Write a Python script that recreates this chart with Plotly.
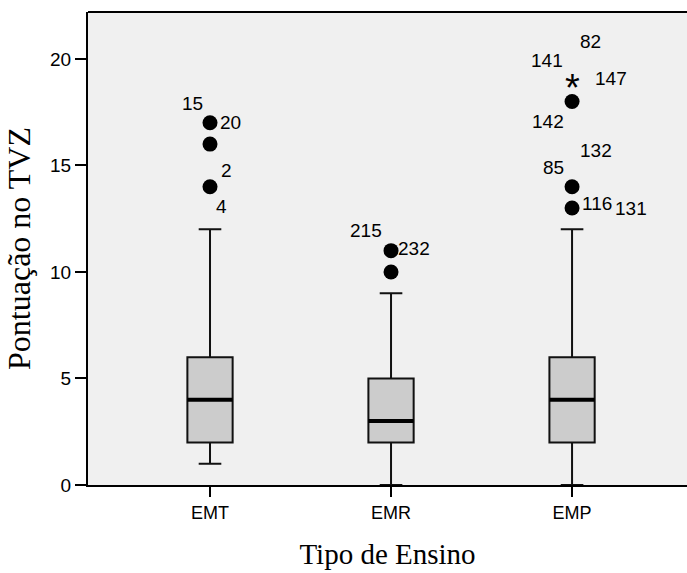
import plotly.graph_objects as go

# Box-plot summaries per school type
categories = ["EMT", "EMR", "EMP"]
q1 = [2, 2, 2]
medians = [4, 3, 4]
q3 = [6, 5, 6]
lower_whisker = [1, 0, 0]
upper_whisker = [12, 9, 12]

# Outliers (circles) and extremes (asterisks)
outlier_cat = ["EMT", "EMT", "EMT", "EMR", "EMR", "EMP", "EMP", "EMP"]
outlier_val = [17, 16, 14, 11, 10, 18, 14, 13]
extreme_cat = ["EMP"]
extreme_val = [19]

# Case-number labels attached to the outlying points
case_cat = ["EMT", "EMT", "EMT", "EMT", "EMR", "EMR",
            "EMP", "EMP", "EMP", "EMP", "EMP", "EMP", "EMP", "EMP"]
case_val = [17, 17, 14, 14, 11, 11,
            19, 19, 19, 18, 14, 14, 13, 13]
case_id = ["15", "20", "2", "4", "215", "232",
           "82", "141", "147", "142", "132", "85", "116", "131"]

# Pixel offsets of each case label relative to its point (dx right, dy down)
label_offsets = {
    "15": (-18, -19), "20": (20, 0), "2": (16, -16), "4": (11, 20),
    "215": (-25, -20), "232": (23, -2),
    "82": (18, -39), "141": (-25, -20), "147": (39, -2),
    "142": (-24, 20), "132": (24, -36), "85": (-19, -19),
    "116": (25, -5), "131": (59, 0),
}

BOX_W = 0.25
sans = "Liberation Sans, Arial, sans-serif"
serif = "Liberation Serif, Times New Roman, serif"

fig = go.Figure()

fig.add_trace(go.Box(
    x=categories,
    q1=q1, median=medians, q3=q3,
    lowerfence=lower_whisker, upperfence=upper_whisker,
    width=BOX_W,
    whiskerwidth=0.5,
    fillcolor="#cccccc",
    line=dict(color="#111111", width=2),
    boxpoints=False,
    showlegend=False,
    hoverinfo="skip",
))

fig.add_trace(go.Scatter(
    x=outlier_cat, y=outlier_val, mode="markers",
    marker=dict(symbol="circle", size=15, color="black"),
    showlegend=False, hoverinfo="skip", cliponaxis=False,
))

# Thicker median bars
for i, m in enumerate(medians):
    fig.add_shape(type="line", xref="x", yref="y",
                  x0=i - BOX_W / 2, x1=i + BOX_W / 2, y0=m, y1=m,
                  line=dict(color="black", width=4))

# Extreme values drawn as asterisks
for c, v in zip(extreme_cat, extreme_val):
    fig.add_annotation(x=c, y=v, xref="x", yref="y", text="*",
                       showarrow=False, font=dict(family=sans, size=38, color="black"),
                       yshift=-8)

for c, v, t in zip(case_cat, case_val, case_id):
    dx, dy = label_offsets[t]
    fig.add_annotation(x=c, y=v, xref="x", yref="y", text=t,
                       showarrow=False, xshift=dx, yshift=-dy,
                       font=dict(family=sans, size=19, color="black"))

# Top border of the plotting frame
fig.add_shape(type="line", xref="paper", yref="paper", x0=0, x1=1, y0=1, y1=1,
              line=dict(color="black", width=2))

fig.update_layout(
    width=687, height=573,
    margin=dict(l=88, r=0, t=12, b=88),
    paper_bgcolor="white",
    plot_bgcolor="#f0f0f0",
    xaxis=dict(
        range=[-0.674, 2.635],
        showgrid=False, zeroline=False,
        showline=True, linecolor="black", linewidth=2,
        ticks="outside", ticklen=10, tickwidth=2, tickcolor="black",
        tickfont=dict(family=sans, size=18, color="black"),
        title=dict(text="Tipo de Ensino", font=dict(family=serif, size=29, color="black"),
                   standoff=22),
    ),
    yaxis=dict(
        range=[0, 22.2],
        tickvals=[0, 5, 10, 15, 20],
        showgrid=False, zeroline=False,
        showline=True, linecolor="black", linewidth=2,
        ticks="outside", ticklen=11, tickwidth=2, tickcolor="black",
        tickfont=dict(family=sans, size=19, color="black"),
        title=dict(text="Pontuação no TVZ", font=dict(family=serif, size=32, color="black"),
                   standoff=10),
    ),
)

fig.write_html("out.html")
